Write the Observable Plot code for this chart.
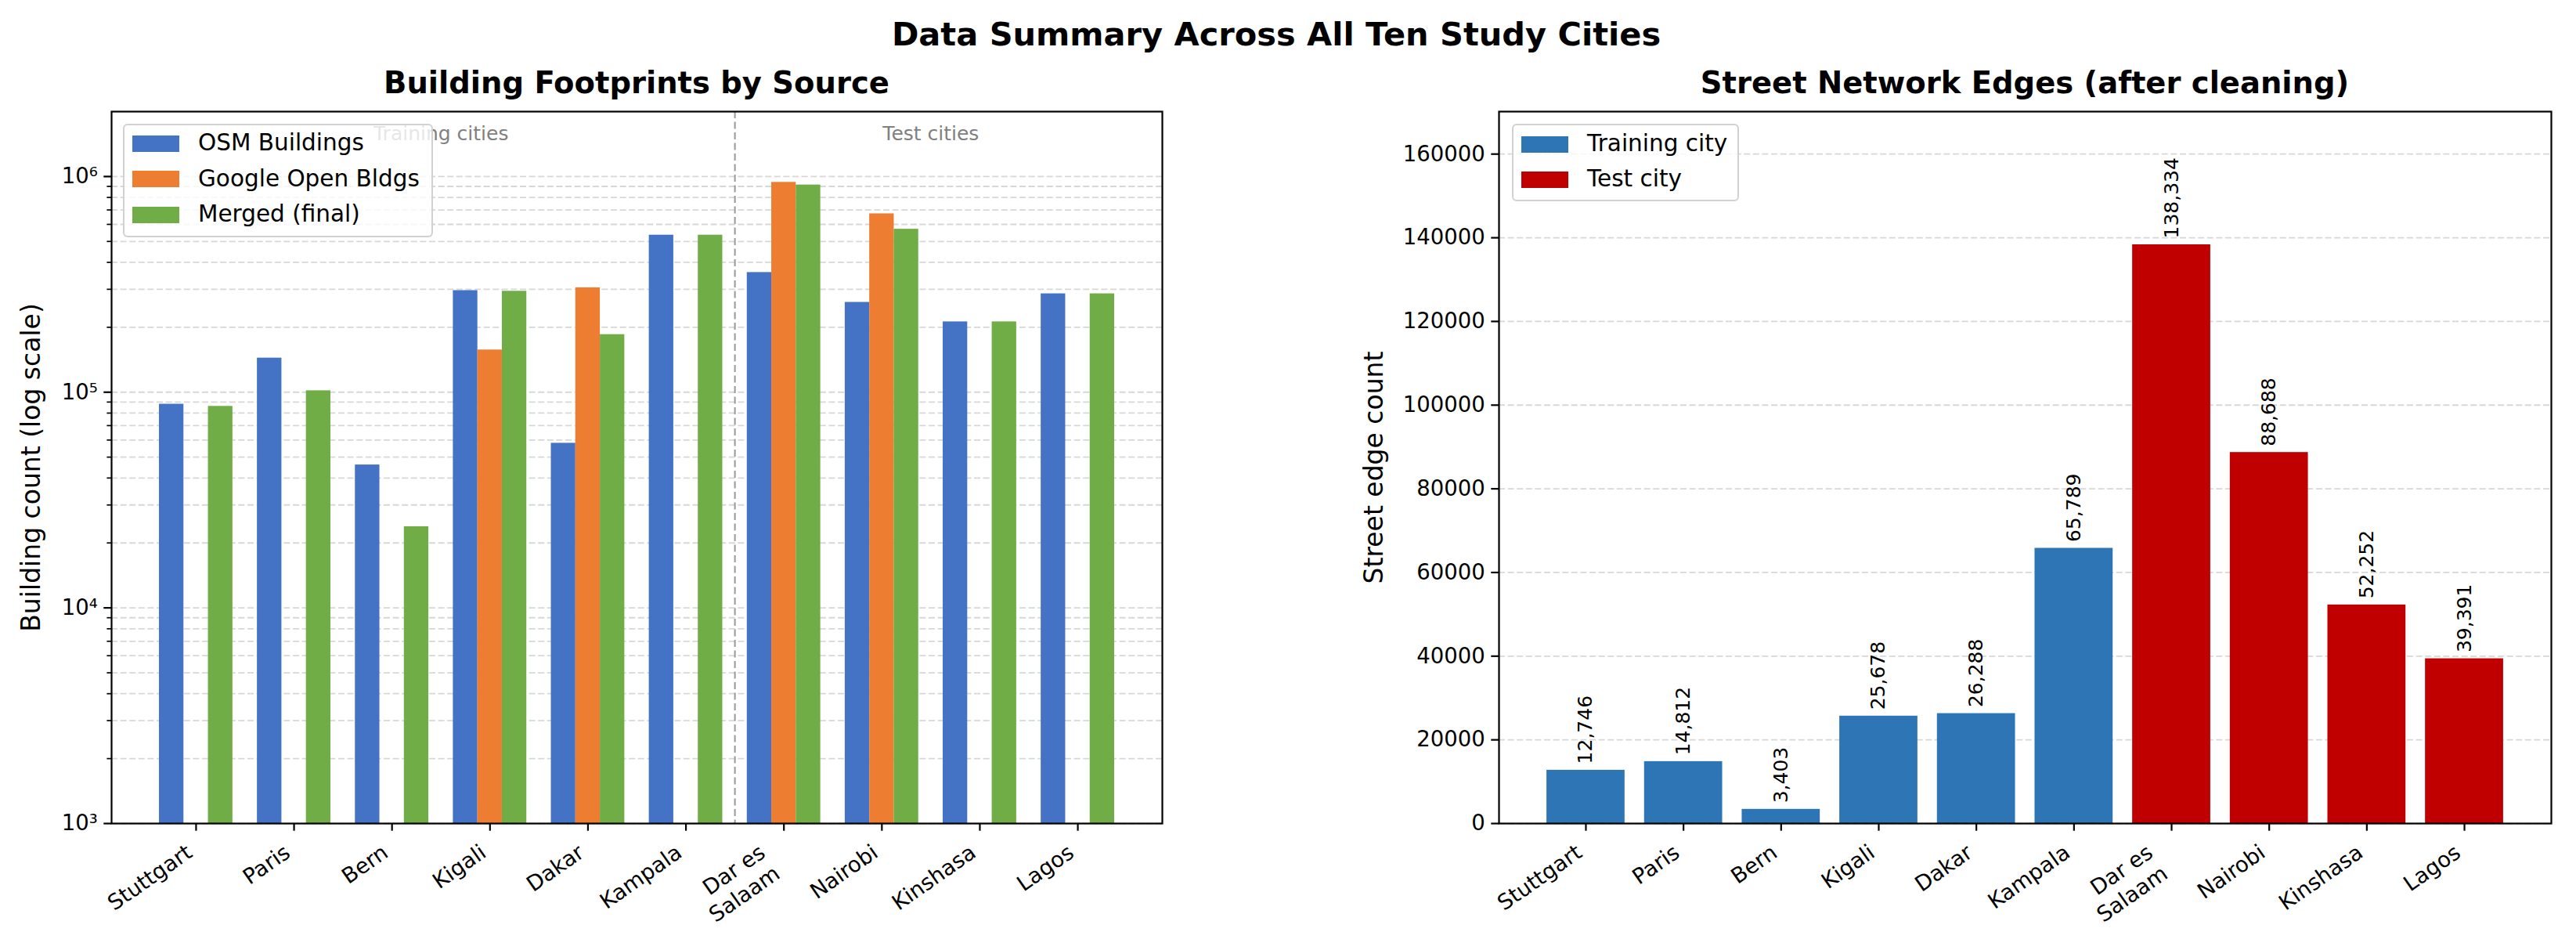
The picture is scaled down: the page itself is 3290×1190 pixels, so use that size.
<!DOCTYPE html>
<html>
<head>
<meta charset="utf-8">
<script src="https://cdn.jsdelivr.net/npm/d3@7"></script>
<script src="https://cdn.jsdelivr.net/npm/@observablehq/plot@0.6"></script>
<style>
  body { margin: 0; background: white; }
  #fig { position: relative; width: 3290px; height: 1190px; background: white; font-family: "DejaVu Sans", sans-serif; overflow: hidden; }
  .abs { position: absolute; }
  .title { font-weight: bold; line-height: 1; white-space: nowrap; color: #000; }
  .legend { position: absolute; background: rgba(255,255,255,0.8); border: 2px solid rgba(204,204,204,0.9); border-radius: 6px; box-sizing: border-box; z-index: 5; }
  .legend .row { position: absolute; left: 0; display: flex; align-items: center; font-size: 29.5px; line-height: 1; white-space: nowrap; color: #000; }
  .legend .sw { width: 60px; height: 21px; margin-left: 10px; margin-right: 24px; }
</style>
</head>
<body>
<div id="fig"></div>
<script>
// ---------------- data ----------------
const cities = ["Stuttgart", "Paris", "Bern", "Kigali", "Dakar", "Kampala", "Dar es\nSalaam", "Nairobi", "Kinshasa", "Lagos"];
const nTraining = 6;
const osmBuildings = [88000, 144000, 46000, 296000, 58000, 535000, 359000, 261000, 212000, 286000];
const googleBuildings = [null, null, null, 157000, 305000, null, 940000, 672000, null, null];
const mergedBuildings = [86000, 101600, 23800, 294000, 185000, 535000, 914000, 570000, 212000, 286000];
const streetEdges = [12746, 14812, 3403, 25678, 26288, 65789, 138334, 88688, 52252, 39391];
const sourceNames = ["OSM Buildings", "Google Open Bldgs", "Merged (final)"];
const cityGroupNames = ["Training city", "Test city"];
const sectionNames = ["Training cities", "Test cities"];
const logTickLabels = ["10³", "10⁴", "10⁵", "10⁶"];
const edgeTicks = [0, 20000, 40000, 60000, 80000, 100000, 120000, 140000, 160000];

const suptitle = "Data Summary Across All Ten Study Cities";
const leftTitle = "Building Footprints by Source";
const rightTitle = "Street Network Edges (after cleaning)";
const leftYLabel = "Building count (log scale)";
const rightYLabel = "Street edge count";

// ---------------- styles ----------------
const sourceColors = ["#4472C4", "#ED7D31", "#70AD47"];
const groupColors = ["#2E75B6", "#C00000"];
const FS = 27.5;
const gridStyle = {stroke: "#b0b0b0", strokeOpacity: 0.5, strokeDasharray: "8,3.6", strokeWidth: 1.8};

// ---------------- derived tables ----------------
const barW = 0.25;
const sourceSeries = [osmBuildings, googleBuildings, mergedBuildings];
const buildingRows = [];
sourceSeries.forEach((series, s) => {
  series.forEach((v, i) => {
    if (v == null) return;
    const c = i + (s - 1) * barW;
    buildingRows.push({i, source: sourceNames[s], value: v, x1: c - barW / 2, x2: c + barW / 2});
  });
});
const edgeRows = streetEdges.map((v, i) => ({
  i, value: v, group: i < nTraining ? cityGroupNames[0] : cityGroupNames[1], x1: i - 0.4, x2: i + 0.4
}));
const sections = [
  {label: sectionNames[0], center: (nTraining - 1) / 2},
  {label: sectionNames[1], center: (nTraining + cities.length - 1) / 2}
];
const dividerX = nTraining - 0.5;

const logMin = 1e3, logMax = 2e6;
const majorLog = [1e3, 1e4, 1e5, 1e6];
const minorLog = [];
for (let e = 3; e <= 6; e++) for (let m = 2; m <= 9; m++) { const v = m * 10 ** e; if (v < logMax) minorLog.push(v); }

// rotated city labels (matplotlib-like: top-right corner of rotated box at tick)
const TICK = 9.7, PAD = 9.7;
function cityLabelMarks() {
  const byLines = d3.group(d3.range(cities.length), i => cities[i].split("\n").length);
  return Array.from(byLines, ([n, idx]) => {
    const h = FS * 1.164 + (n - 1) * FS * 1.2;
    return Plot.text(idx, {
      x: d => d, text: d => cities[d], frameAnchor: "bottom", rotate: -35,
      textAnchor: "end", lineAnchor: "middle", lineHeight: 1.2,
      dx: -0.287 * h, dy: TICK + PAD + 0.41 * h, fontSize: FS, fill: "black"
    });
  });
}

// ---------------- layout ----------------
const fig = document.getElementById("fig");
function addDiv(text, css, cls) {
  const d = document.createElement("div");
  d.className = cls || "abs";
  d.textContent = text;
  Object.assign(d.style, css);
  fig.appendChild(d);
  return d;
}
const plotStyle = {fontFamily: "DejaVu Sans", fontSize: FS + "px", color: "black", background: "transparent", overflow: "visible"};

// ---------------- left chart ----------------
const left = Plot.plot({
  width: 1600, height: 1060,
  marginTop: 12, marginBottom: 139, marginLeft: 142, marginRight: 116,
  style: plotStyle,
  x: {type: "linear", domain: [-0.8625, 9.8625]},
  y: {type: "log", domain: [logMin, logMax]},
  color: {domain: sourceNames, range: sourceColors},
  marks: [
    Plot.gridY({ticks: [...majorLog, ...minorLog], ...gridStyle}),
    Plot.rect(buildingRows, {x1: "x1", x2: "x2", y1: () => logMin, y2: "value", fill: "source"}),
    Plot.ruleX([dividerX], {stroke: "#999", strokeWidth: 2, strokeDasharray: "9,4.5"}),
    Plot.text(sections, {x: "center", frameAnchor: "top", dy: 28, text: "label", fill: "#808080", fontSize: 25, lineAnchor: "middle"}),
    Plot.axisY({ticks: majorLog, tickFormat: d => logTickLabels[majorLog.indexOf(d)], tickSize: TICK, tickPadding: 8, strokeWidth: 2.2, label: null}),
    Plot.axisY({ticks: minorLog, tickFormat: () => "", tickSize: 5.6, strokeWidth: 1.7, label: null}),
    Plot.axisX({ticks: d3.range(cities.length), tickFormat: () => "", tickSize: TICK, strokeWidth: 2.2, label: null}),
    ...cityLabelMarks(),
    Plot.text([leftYLabel], {frameAnchor: "left", dx: -102, rotate: -90, text: d => d, fontSize: 33, textAnchor: "middle", lineAnchor: "middle", fill: "black"}),
    Plot.frame({stroke: "black", strokeWidth: 2.2})
  ]
});
left.style.position = "absolute"; left.style.left = "0px"; left.style.top = "130px";
fig.appendChild(left);

// ---------------- right chart ----------------
const right = Plot.plot({
  width: 1640, height: 1060,
  marginTop: 12, marginBottom: 139, marginLeft: 264, marginRight: 32,
  style: plotStyle,
  x: {type: "linear", domain: [-0.89, 9.89]},
  y: {type: "linear", domain: [0, 170150]},
  color: {domain: cityGroupNames, range: groupColors},
  marks: [
    Plot.gridY({ticks: edgeTicks, ...gridStyle}),
    Plot.rect(edgeRows, {x1: "x1", x2: "x2", y1: () => 0, y2: "value", fill: "group"}),
    Plot.text(edgeRows, {x: "i", y: "value", text: d => d3.format(",")(d.value), rotate: -90, textAnchor: "start", lineAnchor: "middle", dy: -8, fontSize: 25, fill: "black"}),
    Plot.axisY({ticks: edgeTicks, tickFormat: d => String(d), tickSize: TICK, tickPadding: 8, strokeWidth: 2.2, label: null}),
    Plot.axisX({ticks: d3.range(cities.length), tickFormat: () => "", tickSize: TICK, strokeWidth: 2.2, label: null}),
    ...cityLabelMarks(),
    Plot.text([rightYLabel], {frameAnchor: "left", dx: -159, rotate: -90, text: d => d, fontSize: 33, textAnchor: "middle", lineAnchor: "middle", fill: "black"}),
    Plot.frame({stroke: "black", strokeWidth: 2.2})
  ]
});
right.style.position = "absolute"; right.style.left = "1650px"; right.style.top = "130px";
fig.appendChild(right);

// ---------------- titles ----------------
function centeredTitle(text, cx, top, size) {
  return addDiv(text, {top: top + "px", left: (cx - 1000) + "px", width: "2000px", textAlign: "center", fontSize: size + "px"}, "abs title");
}
centeredTitle(suptitle, 1630, 23, 41.5);
centeredTitle(leftTitle, 813, 87, 38.5);
centeredTitle(rightTitle, 2586, 87, 38.5);

// ---------------- legends ----------------
function legend(names, colors, box, rowsY) {
  const lg = document.createElement("div");
  lg.className = "legend";
  Object.assign(lg.style, {left: box[0] + "px", top: box[1] + "px", width: (box[2] - box[0]) + "px", height: (box[3] - box[1]) + "px"});
  names.forEach((n, k) => {
    const r = document.createElement("div");
    r.className = "row";
    r.style.top = (rowsY[k] - box[1] - 2 - 16) + "px";
    r.style.height = "32px";
    const sw = document.createElement("div");
    sw.className = "sw";
    sw.style.background = colors[k];
    const t = document.createElement("span");
    t.textContent = n;
    r.appendChild(sw); r.appendChild(t);
    lg.appendChild(r);
  });
  fig.appendChild(lg);
}
legend(sourceNames, sourceColors, [157, 158, 553, 303], [183, 228.5, 274]);
legend(cityGroupNames, groupColors, [1931, 158, 2221, 257], [184, 229]);
</script>
</body>
</html>
